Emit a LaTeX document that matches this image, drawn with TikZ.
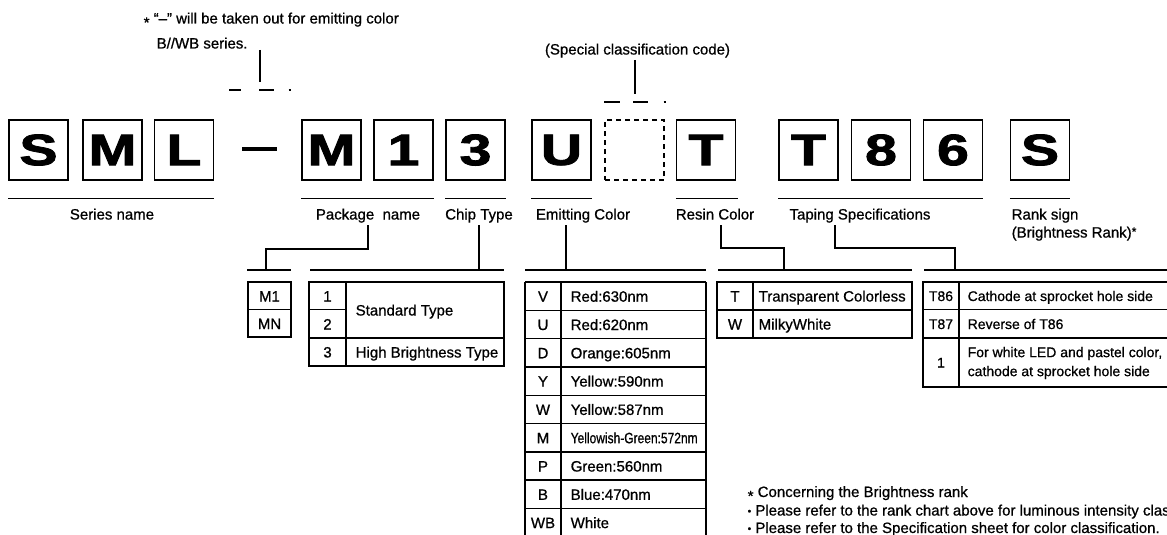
\documentclass[tikz,border=0pt]{standalone}
\usepackage{fontspec}
\setmainfont{Liberation Sans}[UprightFeatures={FakeBold=0.8},BoldFeatures={FakeBold=1.8}]
\newcommand\boxch[1]{\scalebox{1.3}[1]{#1}}
\newcommand\astb{\raisebox{-0.28em}{*}}
\newcommand\smallbul{{\fontsize{10}{10}\selectfont\raisebox{0.1em}{•}}}
\begin{document}
\begin{tikzpicture}[x=1pt,y=-1pt,line width=1.4pt,
  every node/.style={font=\fontsize{15}{17.5}\selectfont, inner sep=0pt},
  letterbox/.style={draw, minimum width=59pt, minimum height=60pt, font=\fontsize{44}{44}\selectfont\bfseries},
  dashbox/.style={draw, dash pattern=on 5pt off 4pt, minimum width=59pt, minimum height=60pt},
  lbl/.style={anchor=base},
  cell/.style={anchor=base},
  desc/.style={anchor=base west},
  tap/.style={font=\fontsize{14}{17}\selectfont},
  multi/.style={align=left, anchor=west},
  heavy/.style={line width=4pt}]
\useasboundingbox (0,0) rectangle (1167,535);
\clip (0,0) rectangle (1167,535);

% ---- top notes ----
\node[anchor=base west] (note1) at (143,23.5) {\astb\ “–” will be taken out for emitting color};
\node[anchor=base west] (note2) at (156,48.5) {B//WB series.};
\coordinate (n1a) at (260,50);
\coordinate (n1b) at (260,82);
\draw (n1a) -- (n1b);
\draw (229,90) -- (241,90) (259,90) -- (274,90) (288.5,90) -- (290.5,90);

\node[anchor=base] (spec) at (637.5,54.5) {(Special classification code)};
\coordinate (s1) at (635,60);
\coordinate (s2) at (635,94);
\draw (s1) -- (s2);
\draw (604,102) -- (620,102) (633,102) -- (648,102) (663.5,102) -- (665.5,102);

% ---- letter boxes ----
\node[letterbox] (bS) at (38.5,150) {\boxch{S}};
\node[letterbox] (bM) at (112.5,150) {\boxch{M}};
\node[letterbox] (bL) at (184,150) {\boxch{L}};
\coordinate (da) at (242,149);
\coordinate (db) at (277,149);
\draw[heavy] (da) -- (db);
\node[letterbox] (bM2) at (331.5,150) {\boxch{M}};
\node[letterbox] (b1) at (403.5,150) {\boxch{1}};
\node[letterbox] (b3) at (475.5,150) {\boxch{3}};
\node[letterbox] (bU) at (561.5,150) {\boxch{U}};
\node[dashbox] (bX) at (634.5,150) {};
\node[letterbox] (bT) at (706,150) {\boxch{T}};
\node[letterbox] (bT2) at (808.5,150) {\boxch{T}};
\node[letterbox] (b8) at (881,150) {\boxch{8}};
\node[letterbox] (b6) at (953,150) {\boxch{6}};
\node[letterbox] (bS2) at (1040,150) {\boxch{S}};

% ---- underlines ----
\draw ([yshift=-18pt]bS.south west) -- ([yshift=-18pt]bL.south east);
\draw ([yshift=-18pt]bM2.south west) -- ([yshift=-18pt]b1.south east);
\draw ([yshift=-18pt]b3.south west) -- ([yshift=-18pt]b3.south east);
\draw ([yshift=-18pt]bU.south west) -- ([yshift=-18pt]bU.south east);
\draw ([yshift=-18pt]bT.south west) -- ([yshift=-18pt,xshift=2pt]bT.south east);
\draw ([yshift=-18pt]bT2.south west) -- ([yshift=-18pt]b6.south east);
\draw ([yshift=-18pt]bS2.south west) -- ([yshift=-18pt]bS2.south east);

% ---- labels ----
\node[lbl] (lSer) at (112,219.5) {Series name};
\node[lbl] (lPkg) at (368,219.5) {Package\ \ name};
\node[lbl] (lChip) at (479,219.5) {Chip Type};
\node[lbl] (lEm) at (583,219.5) {Emitting Color};
\node[lbl] (lRes) at (715,219.5) {Resin Color};
\node[lbl] (lTap) at (860,219.5) {Taping Specifications};
\node[anchor=north west, align=left, font=\fontsize{15}{18}\selectfont] (lRank) at (1011,208) {Rank sign\\(Brightness Rank){\fontsize{12}{12}\selectfont\raisebox{0.15em}{*}}};

% ---- group lines ----
\coordinate (gPkgL) at (247,270); \coordinate (gPkgR) at (291,270);
\coordinate (gChipL) at (310,270); \coordinate (gChipR) at (504,270);
\coordinate (gEmL) at (525,270); \coordinate (gEmR) at (706,270);
\coordinate (gResL) at (718,270); \coordinate (gResR) at (912,270);
\coordinate (gTapL) at (924,270); \coordinate (gTapR) at (1175,270);
\draw (gPkgL) -- (gPkgR);
\draw (gChipL) -- (gChipR);
\draw (gEmL) -- (gEmR);
\draw (gResL) -- (gResR);
\draw (gTapL) -- (gTapR);

% ---- connectors ----
\coordinate (cPkg) at (368,225); \coordinate (tPkg) at (266,270);
\draw (cPkg) |- (266,249) -- (tPkg);
\coordinate (cChip) at (479,225); \coordinate (tChip) at (479,270);
\draw (cChip) -- (tChip);
\coordinate (cEm) at (566,225); \coordinate (tEm) at (566,270);
\draw (cEm) -- (tEm);
\coordinate (cRes) at (721,225); \coordinate (tRes) at (784,270);
\draw (cRes) |- (784,248) -- (tRes);
\coordinate (cTap) at (835,225); \coordinate (tTap) at (955,270);
\draw (cTap) |- (955,248) -- (tTap);

% ---- package table ----
\draw (248,282) rectangle (291,337);
\draw (248,309.5) -- (291,309.5);
\node[cell] (pM1) at (269.5,301.5) {M1};
\node[cell] (pMN) at (269.5,329) {MN};

% ---- chip table ----
\draw (309,282) rectangle (504,366);
\draw (346,282) -- (346,366);
\draw (309,309.5) -- (346,309.5);
\draw (309,338) -- (504,338);
\node[cell] (c1) at (327.5,301.5) {1};
\node[cell] (c2) at (327.5,329.5) {2};
\node[cell] (c3) at (327.5,357.5) {3};
\node[desc] (cStd) at (355,315.5) {Standard Type};
\node[desc] (cHi) at (355,357.5) {High Brightness Type};

% ---- emitting table ----
\draw (525,282) -- (525,540) (706,282) -- (706,540) (561,282) -- (561,540);
\foreach \k in {0,...,9} \draw (525,282+28.3*\k) -- (706,282+28.3*\k);
\foreach \c/\t [count=\i from 0] in {V/Red:630nm, U/Red:620nm, D/Orange:605nm, Y/Yellow:590nm, W/Yellow:587nm, M/{\scalebox{0.8}[1]{Yellowish-Green:572nm}}, P/Green:560nm, B/Blue:470nm, WB/White}{
  \node[cell] (ec\i) at (543,301.7+28.3*\i) {\c};
  \node[desc] (ed\i) at (570,301.7+28.3*\i) {\t};
}

% ---- resin table ----
\draw (717,282) rectangle (912,338);
\draw (753,282) -- (753,338);
\draw (717,310) -- (912,310);
\node[cell] (rT) at (735,301.5) {T};
\node[cell] (rW) at (735,329.5) {W};
\node[desc] (rTd) at (758,301.5) {Transparent Colorless};
\node[desc] (rWd) at (758,329.5) {MilkyWhite};

% ---- taping table ----
\draw (1180,282) -- (923,282) -- (923,387) -- (1180,387);
\draw (959,282) -- (959,387);
\draw (923,309.5) -- (1180,309.5);
\draw (923,338) -- (1180,338);
\node[cell,tap] (t86) at (941,301) {T86};
\node[cell,tap] (t87) at (941,329) {T87};
\node[cell,tap] (t1) at (941,367.5) {1};
\node[desc,tap] (t86d) at (967,301) {Cathode at sprocket hole side};
\node[desc,tap] (t87d) at (967,329) {Reverse of T86};
\node[multi, font=\fontsize{14}{19}\selectfont] (t1d) at (967,363) {For white LED and pastel color,\\cathode at sprocket hole side};

% ---- bottom notes ----
\node[anchor=base west] (bn1) at (747,497) {\astb\ Concerning the Brightness rank};
\node[anchor=base west] (bn2) at (747,515.5) {\smallbul\ Please refer to the rank chart above for luminous intensity classification.};
\node[anchor=base west] (bn3) at (747,533) {\smallbul\ Please refer to the Specification sheet for color classification.};
\end{tikzpicture}
\end{document}
